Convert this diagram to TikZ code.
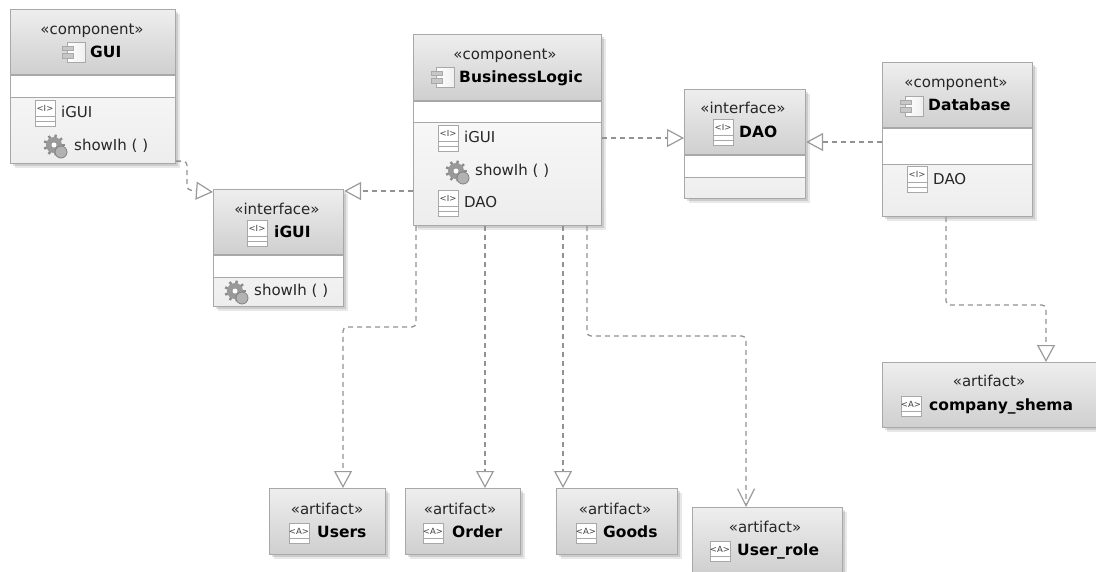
\documentclass[tikz,border=0pt]{standalone}
\usepackage{fontspec}
\setmainfont{DejaVu Sans}
\usetikzlibrary{arrows.meta,shadows}
\definecolor{boxedge}{HTML}{A8A8A8}
\definecolor{headtop}{HTML}{EEEEEE}
\definecolor{headbot}{HTML}{CFCFCF}
\definecolor{linkgray}{HTML}{929292}
\definecolor{tipgray}{HTML}{9A9A9A}
\tikzset{
  boxshadow/.style={
    general shadow={shadow xshift=4pt,shadow yshift=-4pt,fill=black,opacity=0.09},
    general shadow={shadow xshift=2pt,shadow yshift=-2pt,fill=black,opacity=0.12}},
  bodybox/.style={draw=boxedge,line width=1.1pt,inner sep=0pt,anchor=north west,boxshadow,
    top color=white,middle color=white,bottom color=black!7},
  headbox/.style={draw=boxedge,line width=1.1pt,inner sep=0pt,anchor=north west,
    top color=headtop,bottom color=headbot},
  stripbox/.style={draw=boxedge,line width=1.1pt,inner sep=0pt,anchor=north west,fill=white},
  artbox/.style={headbox,boxshadow},
  stereo/.style={inner sep=0pt,text=black!85,text height=11pt,text depth=0pt,font=\fontsize{15}{17}\selectfont},
  member/.style={stereo,anchor=west},
  title/.style={stereo,anchor=west,text=black,font=\fontsize{15.5}{17}\selectfont\bfseries},
  glyph/.style={inner sep=0pt,text=black!75,font=\fontsize{8.5}{9}\selectfont},
  realize/.style={draw=linkgray,line width=1.3pt,dash pattern=on 5pt off 4pt,
    -{Triangle[open,length=17pt,width=18pt,line width=1.2pt,color=tipgray]}},
  depend/.style={draw=linkgray,line width=1.3pt,dash pattern=on 5pt off 4pt,
    -{Straight Barb[length=17pt,width=17pt,line width=1.2pt,color=tipgray]}},
  compicon/.pic={
    \draw[boxedge,line width=.9pt,left color=white,right color=black!6] (-7,-10) rectangle (11,10);
    \draw[boxedge,fill=black!22,line width=.8pt] (-12,-6) rectangle (-1,-1.5);
    \draw[boxedge,fill=black!22,line width=.8pt] (-12,1.5) rectangle (-1,6);
  },
  ifaceicon/.pic={
    \draw[boxedge,line width=1pt,fill=white] (-10,-13) rectangle (10,13);
    \draw[boxedge,line width=1pt] (-10,3) -- (10,3) (-10,8) -- (10,8);
    \node[glyph] (-mark) at (0,-5) {<I>};
  },
  articon/.pic={
    \draw[boxedge,line width=1pt,fill=white] (-10,-10) rectangle (10,10);
    \draw[boxedge,line width=1pt] (-10,5) -- (10,5);
    \node[glyph] (-mark) at (0,-2) {<A>};
  },
  gearicon/.pic={
    \foreach \ang in {0,40,...,320}
      \draw[black!45,line width=2.4pt] (-3,-2) -- ++(\ang:10.5);
    \fill[black!40] (-3,-2) circle[radius=8];
    \fill[white] (-3,-2) circle[radius=2.5];
    \draw[black!50,fill=black!30,line width=.8pt] (4,5) circle[radius=6];
  }
}
\begin{document}
\begin{tikzpicture}[x=1pt,y=-1pt]
\useasboundingbox (0,0) rectangle (1096,571);
\clip (0,0) rectangle (1096,571);

% components
\node[bodybox,minimum width=165pt,minimum height=154pt] (gui) at (10,9) {};
\node[headbox,minimum width=165pt,minimum height=65pt] (guihead) at (gui.north west) {};
\node[stripbox,minimum width=165pt,minimum height=22pt] (guistrip) at (guihead.south west) {};
\node[stereo] (guikind) at (92,29) {«component»};
\pic at (74,52) {compicon};
\node[title] (guiname) at (90,52) {GUI};
\pic at (45,113) {ifaceicon};
\node[member] (guirow) at (61,112) {iGUI};
\pic at (57,147) {gearicon};
\node[member] (guiop) at (74,145) {showIh ( )};

\node[bodybox,minimum width=188pt,minimum height=191pt] (logic) at (413,34) {};
\node[headbox,minimum width=188pt,minimum height=66pt] (logichead) at (logic.north west) {};
\node[stripbox,minimum width=188pt,minimum height=21pt] (logicstrip) at (logichead.south west) {};
\node[stereo] (logickind) at (505,54) {«component»};
\pic at (443,77) {compicon};
\node[title] (logicname) at (459,77) {BusinessLogic};
\pic at (448,138) {ifaceicon};
\node[member] (logicrow) at (464,137) {iGUI};
\pic at (459,173) {gearicon};
\node[member] (logicop) at (475,170) {showIh ( )};
\pic at (448,203) {ifaceicon};
\node[member] (logicdao) at (464,202) {DAO};

\node[bodybox,minimum width=150pt,minimum height=154pt] (base) at (882,62) {};
\node[headbox,minimum width=150pt,minimum height=65pt] (basehead) at (base.north west) {};
\node[stripbox,minimum width=150pt,minimum height=36pt] (basestrip) at (basehead.south west) {};
\node[stereo] (basekind) at (956,82) {«component»};
\pic at (912,106) {compicon};
\node[title] (basename) at (928,105) {Database};
\pic at (917,179) {ifaceicon};
\node[member] (baserow) at (933,179) {DAO};

% interfaces
\node[bodybox,minimum width=130pt,minimum height=117pt] (igui) at (213,189) {};
\node[headbox,minimum width=130pt,minimum height=65pt] (iguihead) at (igui.north west) {};
\node[stripbox,minimum width=130pt,minimum height=22pt] (iguistrip) at (iguihead.south west) {};
\node[stereo] (iguikind) at (277,209) {«interface»};
\pic at (257,233) {ifaceicon};
\node[title] (iguiname) at (274,232) {iGUI};
\pic at (238,293) {gearicon};
\node[member] (iguiop) at (254,290) {showIh ( )};

\node[bodybox,minimum width=121pt,minimum height=109pt] (dao) at (684,89) {};
\node[headbox,minimum width=121pt,minimum height=65pt] (daohead) at (dao.north west) {};
\node[stripbox,minimum width=121pt,minimum height=22pt] (daostrip) at (daohead.south west) {};
\node[stereo] (daokind) at (743,108) {«interface»};
\pic at (723,132) {ifaceicon};
\node[title] (daoname) at (739,132) {DAO};

% artifacts
\node[artbox,minimum width=116pt,minimum height=66pt] (users) at (269,488) {};
\node[stereo] (userskind) at (327,509) {«artifact»};
\pic at (299,533) {articon};
\node[title] (usersname) at (317,532) {Users};

\node[artbox,minimum width=115pt,minimum height=66pt] (order) at (405,488) {};
\node[stereo] (orderkind) at (460,509) {«artifact»};
\pic at (433,533) {articon};
\node[title] (ordername) at (452,532) {Order};

\node[artbox,minimum width=121pt,minimum height=66pt] (goods) at (556,488) {};
\node[stereo] (goodskind) at (615,509) {«artifact»};
\pic at (586,533) {articon};
\node[title] (goodsname) at (603,532) {Goods};

\node[artbox,minimum width=150pt,minimum height=66pt] (role) at (692,507) {};
\node[stereo] (rolekind) at (765,527) {«artifact»};
\pic at (720,551) {articon};
\node[title] (rolename) at (737,550) {User\_role};

\node[artbox,minimum width=216pt,minimum height=65pt] (shema) at (882,362) {};
\node[stereo] (shemakind) at (989,381) {«artifact»};
\pic at (911,406) {articon};
\node[title] (shemaname) at (929,405) {company\_shema};

% bends
\coordinate (guibend) at (187,190);
\coordinate (usersbend) at (343,327);
\coordinate (rolebend) at (746,336);
\coordinate (shemabend) at (1046,305);

% links
\draw[realize,rounded corners=4pt] ([yshift=3pt]gui.south east) -| (guibend) -- ([yshift=-3pt]igui.north west);
\draw[realize] ([yshift=-2pt]igui.north east -| logic.west) -- ([yshift=-2pt]igui.north east);
\draw[realize] ([yshift=-49pt]dao.north west -| logic.east) -- ([yshift=-49pt]dao.north west);
\draw[realize] ([yshift=-53pt]dao.north east -| base.west) -- ([yshift=-53pt]dao.north east);
\draw[realize,rounded corners=4pt] ([xshift=3pt]logic.south west) |- (usersbend) -- ([xshift=74pt]users.north west);
\draw[realize] ([xshift=80pt]order.north west |- logic.south) -- ([xshift=80pt]order.north west);
\draw[realize] ([xshift=7pt]goods.north west |- logic.south) -- ([xshift=7pt]goods.north west);
\draw[depend,rounded corners=4pt] ([xshift=174pt]logic.south west) |- (rolebend) -- ([xshift=54pt]role.north west);
\draw[realize,rounded corners=4pt] ([xshift=64pt]base.south west) |- (shemabend) -- ([xshift=164pt]shema.north west);

\end{tikzpicture}
\end{document}
